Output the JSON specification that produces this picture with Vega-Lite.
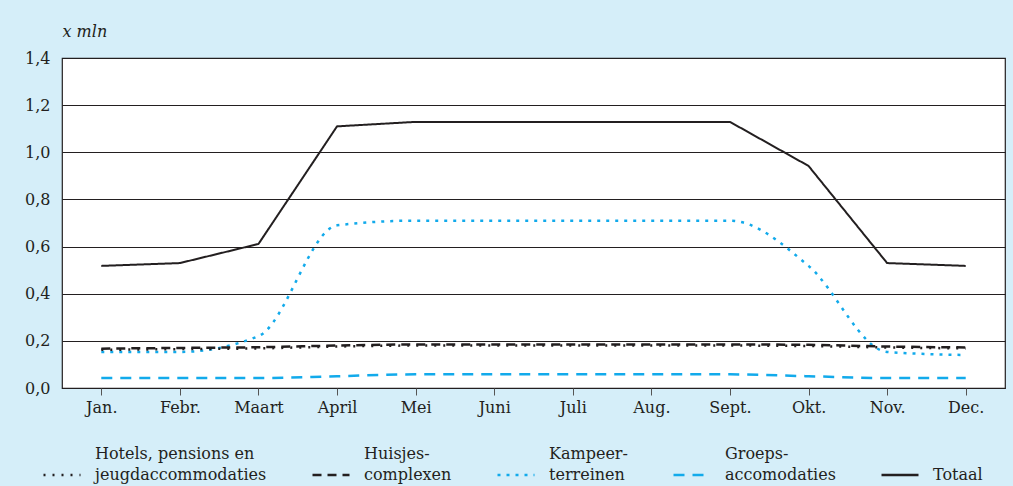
{
  "$schema": "https://vega.github.io/schema/vega-lite/v6.json",
  "width": 943,
  "height": 330,
  "autosize": {"type": "none"},
  "padding": {"left": 62, "top": 58, "right": 8, "bottom": 98},
  "background": "#d5eef9",
  "config": {
    "font": "DejaVu Serif",
    "view": {"fill": "white", "stroke": "#231f20", "strokeWidth": 1.2}
  },
  "data": {
    "values": [
      {"m": "Jan.", "s": "Totaal", "v": 0.518},
      {"m": "Febr.", "s": "Totaal", "v": 0.53},
      {"m": "Maart", "s": "Totaal", "v": 0.611},
      {"m": "April", "s": "Totaal", "v": 1.11},
      {"m": "Mei", "s": "Totaal", "v": 1.129},
      {"m": "Juni", "s": "Totaal", "v": 1.129},
      {"m": "Juli", "s": "Totaal", "v": 1.129},
      {"m": "Aug.", "s": "Totaal", "v": 1.129},
      {"m": "Sept.", "s": "Totaal", "v": 1.129},
      {"m": "Okt.", "s": "Totaal", "v": 0.942},
      {"m": "Nov.", "s": "Totaal", "v": 0.53},
      {"m": "Dec.", "s": "Totaal", "v": 0.518},
      {"m": "Jan.", "s": "Kampeer-|terreinen", "v": 0.153},
      {"m": "Febr.", "s": "Kampeer-|terreinen", "v": 0.153},
      {"m": "Maart", "s": "Kampeer-|terreinen", "v": 0.22},
      {"m": "April", "s": "Kampeer-|terreinen", "v": 0.69},
      {"m": "Mei", "s": "Kampeer-|terreinen", "v": 0.71},
      {"m": "Juni", "s": "Kampeer-|terreinen", "v": 0.71},
      {"m": "Juli", "s": "Kampeer-|terreinen", "v": 0.71},
      {"m": "Aug.", "s": "Kampeer-|terreinen", "v": 0.71},
      {"m": "Sept.", "s": "Kampeer-|terreinen", "v": 0.71},
      {"m": "Okt.", "s": "Kampeer-|terreinen", "v": 0.518},
      {"m": "Nov.", "s": "Kampeer-|terreinen", "v": 0.153},
      {"m": "Dec.", "s": "Kampeer-|terreinen", "v": 0.14},
      {"m": "Jan.", "s": "Groeps-|accomodaties", "v": 0.042},
      {"m": "Febr.", "s": "Groeps-|accomodaties", "v": 0.042},
      {"m": "Maart", "s": "Groeps-|accomodaties", "v": 0.042},
      {"m": "April", "s": "Groeps-|accomodaties", "v": 0.05},
      {"m": "Mei", "s": "Groeps-|accomodaties", "v": 0.058},
      {"m": "Juni", "s": "Groeps-|accomodaties", "v": 0.058},
      {"m": "Juli", "s": "Groeps-|accomodaties", "v": 0.058},
      {"m": "Aug.", "s": "Groeps-|accomodaties", "v": 0.058},
      {"m": "Sept.", "s": "Groeps-|accomodaties", "v": 0.058},
      {"m": "Okt.", "s": "Groeps-|accomodaties", "v": 0.05},
      {"m": "Nov.", "s": "Groeps-|accomodaties", "v": 0.042},
      {"m": "Dec.", "s": "Groeps-|accomodaties", "v": 0.042},
      {"m": "Jan.", "s": "Huisjes-|complexen", "v": 0.167},
      {"m": "Febr.", "s": "Huisjes-|complexen", "v": 0.17},
      {"m": "Maart", "s": "Huisjes-|complexen", "v": 0.173},
      {"m": "April", "s": "Huisjes-|complexen", "v": 0.18},
      {"m": "Mei", "s": "Huisjes-|complexen", "v": 0.185},
      {"m": "Juni", "s": "Huisjes-|complexen", "v": 0.185},
      {"m": "Juli", "s": "Huisjes-|complexen", "v": 0.185},
      {"m": "Aug.", "s": "Huisjes-|complexen", "v": 0.185},
      {"m": "Sept.", "s": "Huisjes-|complexen", "v": 0.185},
      {"m": "Okt.", "s": "Huisjes-|complexen", "v": 0.183},
      {"m": "Nov.", "s": "Huisjes-|complexen", "v": 0.176},
      {"m": "Dec.", "s": "Huisjes-|complexen", "v": 0.172},
      {"m": "Jan.", "s": "Hotels, pensions en|jeugdaccommodaties", "v": 0.162},
      {"m": "Febr.", "s": "Hotels, pensions en|jeugdaccommodaties", "v": 0.165},
      {"m": "Maart", "s": "Hotels, pensions en|jeugdaccommodaties", "v": 0.168},
      {"m": "April", "s": "Hotels, pensions en|jeugdaccommodaties", "v": 0.176},
      {"m": "Mei", "s": "Hotels, pensions en|jeugdaccommodaties", "v": 0.18},
      {"m": "Juni", "s": "Hotels, pensions en|jeugdaccommodaties", "v": 0.18},
      {"m": "Juli", "s": "Hotels, pensions en|jeugdaccommodaties", "v": 0.18},
      {"m": "Aug.", "s": "Hotels, pensions en|jeugdaccommodaties", "v": 0.18},
      {"m": "Sept.", "s": "Hotels, pensions en|jeugdaccommodaties", "v": 0.18},
      {"m": "Okt.", "s": "Hotels, pensions en|jeugdaccommodaties", "v": 0.178},
      {"m": "Nov.", "s": "Hotels, pensions en|jeugdaccommodaties", "v": 0.172},
      {"m": "Dec.", "s": "Hotels, pensions en|jeugdaccommodaties", "v": 0.168}
    ]
  },
  "encoding": {
    "x": {
      "field": "m", "type": "ordinal", "sort": null,
      "scale": {"type": "point", "padding": 0.5},
      "axis": {
        "title": null, "labelAngle": 0, "labelFontSize": 16, "labelColor": "#231f20",
        "labelPadding": 4, "tickSize": 7, "tickColor": "#555", "domain": false, "grid": false
      }
    },
    "y": {
      "field": "v", "type": "quantitative",
      "scale": {"domain": [0, 1.4], "nice": false},
      "axis": {
        "values": [0, 0.2, 0.4, 0.6, 0.8, 1.0, 1.2, 1.4],
        "labelExpr": "replace(format(datum.value, '.1f'), '.', ',')",
        "labelFontSize": 16, "labelColor": "#231f20", "labelPadding": 12,
        "ticks": false, "domain": false,
        "grid": true, "gridColor": "#231f20", "gridWidth": 1, "gridOpacity": 1,
        "title": "x mln", "titleAngle": 0, "titleX": 0, "titleY": -22,
        "titleAlign": "left", "titleBaseline": "alphabetic",
        "titleFontStyle": "italic", "titleFontWeight": "normal", "titleFontSize": 16, "titleColor": "#231f20"
      }
    },
    "color": {
      "field": "s", "type": "nominal",
      "scale": {
        "domain": ["Hotels, pensions en|jeugdaccommodaties", "Huisjes-|complexen", "Kampeer-|terreinen", "Groeps-|accomodaties", "Totaal"],
        "range": ["#231f20", "#231f20", "#12aaeb", "#12aaeb", "#231f20"]
      },
      "legend": {
        "orient": "none", "legendX": -20, "legendY": 397,
        "direction": "horizontal", "title": null,
        "symbolType": "stroke", "symbolSize": 1369, "symbolStrokeWidth": 2.5,
        "labelExpr": "split(datum.label, '|')",
        "labelFontSize": 16, "labelColor": "#231f20", "labelBaseline": "middle",
        "labelOffset": 13, "columnPadding": 40, "labelLimit": 300,
        "encoding": {
          "labels": {
            "lineHeight": {"value": 21},
            "dy": {"value": {"expr": "indexof(datum.label, '|') >= 0 ? -21 : 0"}}
          }
        }
      }
    },
    "strokeDash": {
      "field": "s", "type": "nominal",
      "scale": {
        "domain": ["Hotels, pensions en|jeugdaccommodaties", "Huisjes-|complexen", "Kampeer-|terreinen", "Groeps-|accomodaties", "Totaal"],
        "range": [[2, 7], [9, 6], [3, 6], [11, 8], [1, 0]]
      },
      "legend": null
    }
  },
  "layer": [
    {
      "transform": [{"filter": "datum.s !== 'Totaal'"}],
      "mark": {"type": "line", "interpolate": "monotone", "strokeWidth": 2.5}
    },
    {
      "transform": [{"filter": "datum.s === 'Totaal'"}],
      "mark": {"type": "line", "strokeWidth": 2}
    }
  ]
}
